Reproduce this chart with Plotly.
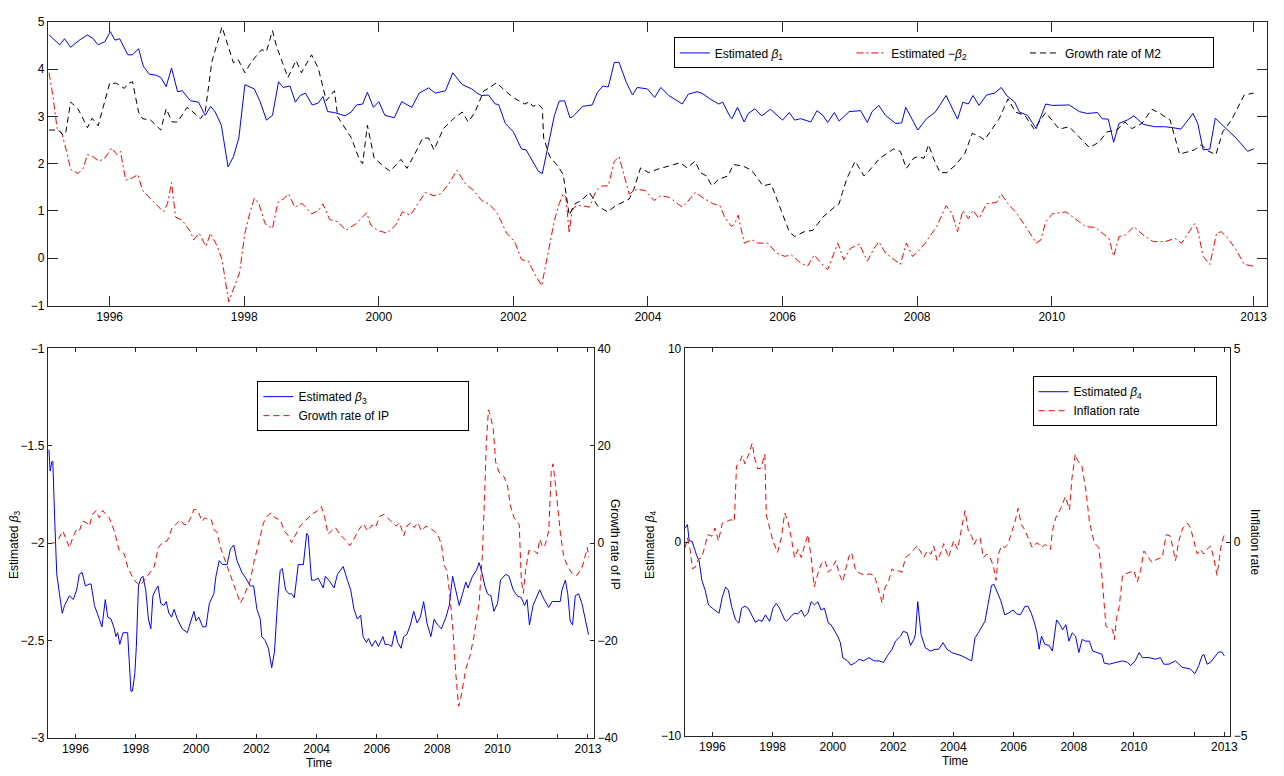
import plotly.graph_objects as go

# ---------------- Top panel data ----------------
t_b1 = [1995.10, 1995.26, 1995.33, 1995.42, 1995.56, 1995.67, 1995.75, 1995.83, 1995.93, 1996.01,
        1996.08, 1996.15, 1996.27, 1996.34, 1996.43, 1996.50, 1996.59, 1996.69, 1996.76, 1996.84,
        1996.92, 1997.01, 1997.08, 1997.20, 1997.32, 1997.42, 1997.50, 1997.57, 1997.66, 1997.76,
        1997.84, 1997.92, 1998.01, 1998.15, 1998.24, 1998.33, 1998.42, 1998.51, 1998.58, 1998.68,
        1998.76, 1998.83, 1998.91, 1999.01, 1999.10, 1999.17, 1999.24, 1999.34, 1999.50, 1999.59,
        1999.67, 1999.76, 1999.83, 1999.92, 2000.00, 2000.09, 2000.23, 2000.34, 2000.49, 2000.60,
        2000.74, 2000.84, 2000.99, 2001.10, 2001.24, 2001.38, 2001.46, 2001.53, 2001.63, 2001.73,
        2001.78, 2001.88, 2002.00, 2002.12, 2002.19, 2002.29, 2002.37, 2002.43, 2002.54, 2002.61,
        2002.68, 2002.76, 2002.84, 2002.88, 2003.03, 2003.17, 2003.25, 2003.33, 2003.41, 2003.50,
        2003.57, 2003.68, 2003.77, 2003.84, 2003.99, 2004.10, 2004.19, 2004.31, 2004.51, 2004.60,
        2004.73, 2004.80, 2004.92, 2005.05, 2005.11, 2005.22, 2005.25, 2005.33, 2005.43, 2005.49,
        2005.59, 2005.69, 2005.82, 2006.00, 2006.10, 2006.18, 2006.27, 2006.42, 2006.51, 2006.60,
        2006.67, 2006.77, 2006.84, 2006.99, 2007.16, 2007.26, 2007.33, 2007.43, 2007.53, 2007.68,
        2007.77, 2007.83, 2008.01, 2008.14, 2008.27, 2008.43, 2008.60, 2008.68, 2008.76, 2008.83,
        2008.92, 2009.03, 2009.15, 2009.25, 2009.33, 2009.45, 2009.52, 2009.64, 2009.77, 2009.91,
        2010.01, 2010.26, 2010.41, 2010.53, 2010.68, 2010.75, 2010.84, 2010.92, 2011.00, 2011.12,
        2011.22, 2011.36, 2011.53, 2011.68, 2011.80, 2011.92, 2012.10, 2012.17, 2012.25, 2012.35,
        2012.43, 2012.59, 2012.74, 2012.91, 2013.00]
b1 = [4.72, 4.51, 4.64, 4.46, 4.62, 4.72, 4.65, 4.51, 4.58, 4.79,
      4.61, 4.64, 4.30, 4.30, 4.43, 4.06, 3.89, 3.87, 3.82, 3.63,
      4.02, 3.52, 3.54, 3.33, 3.30, 3.02, 3.21, 3.09, 2.81, 1.93,
      2.15, 2.54, 3.67, 3.58, 3.30, 2.92, 3.02, 3.73, 3.61, 3.64,
      3.30, 3.44, 3.49, 3.24, 3.28, 3.42, 3.10, 3.08, 3.01, 3.09,
      3.24, 3.26, 3.51, 3.19, 3.31, 3.02, 2.97, 3.31, 3.19, 3.49,
      3.60, 3.49, 3.54, 3.92, 3.67, 3.58, 3.49, 3.44, 3.45, 3.26,
      3.25, 2.85, 2.67, 2.31, 2.29, 2.05, 1.84, 1.79, 2.54, 3.02,
      3.32, 3.33, 2.97, 2.99, 3.21, 3.24, 3.51, 3.64, 3.62, 4.14,
      4.14, 3.71, 3.45, 3.61, 3.58, 3.40, 3.61, 3.44, 3.26, 3.47,
      3.52, 3.49, 3.37, 3.26, 3.30, 2.99, 2.95, 3.19, 2.88, 3.06,
      3.16, 3.01, 3.15, 2.92, 3.08, 2.92, 2.95, 2.88, 3.12, 3.02,
      2.87, 3.08, 2.90, 3.10, 3.12, 2.87, 3.10, 3.23, 3.02, 2.85,
      2.86, 3.19, 2.71, 2.95, 3.09, 3.44, 2.94, 3.30, 3.26, 3.44,
      3.23, 3.45, 3.49, 3.61, 3.44, 3.30, 3.09, 3.02, 2.74, 3.26,
      3.23, 3.24, 3.10, 3.06, 3.08, 2.95, 2.94, 2.45, 2.85, 2.92,
      3.01, 2.83, 2.78, 2.78, 2.76, 2.73, 3.06, 2.85, 2.29, 2.31,
      2.96, 2.74, 2.54, 2.26, 2.31]

t_b2 = [1995.10, 1995.16, 1995.22, 1995.29, 1995.36, 1995.42, 1995.53, 1995.61, 1995.67, 1995.75,
        1995.84, 1995.93, 1996.03, 1996.11, 1996.16, 1996.24, 1996.34, 1996.42, 1996.49, 1996.61,
        1996.69, 1996.80, 1996.86, 1996.92, 1996.98, 1997.08, 1997.20, 1997.25, 1997.33, 1997.43,
        1997.50, 1997.60, 1997.67, 1997.77, 1997.84, 1997.93, 1998.01, 1998.08, 1998.15, 1998.22,
        1998.31, 1998.42, 1998.50, 1998.58, 1998.66, 1998.75, 1998.86, 1999.00, 1999.10, 1999.17,
        1999.27, 1999.39, 1999.51, 1999.66, 1999.82, 1999.88, 1999.98, 2000.12, 2000.25, 2000.35,
        2000.47, 2000.60, 2000.69, 2000.82, 2000.92, 2001.04, 2001.16, 2001.29, 2001.41, 2001.53,
        2001.63, 2001.75, 2001.90, 2002.02, 2002.12, 2002.22, 2002.32, 2002.42, 2002.51, 2002.61,
        2002.68, 2002.74, 2002.78, 2002.83, 2002.87, 2002.93, 2003.03, 2003.13, 2003.23, 2003.32,
        2003.41, 2003.50, 2003.57, 2003.64, 2003.72, 2003.84, 2003.96, 2004.09, 2004.19, 2004.31,
        2004.51, 2004.58, 2004.70, 2004.85, 2004.97, 2005.07, 2005.14, 2005.24, 2005.29, 2005.34,
        2005.43, 2005.54, 2005.63, 2005.78, 2005.91, 2006.03, 2006.13, 2006.27, 2006.37, 2006.47,
        2006.57, 2006.67, 2006.82, 2006.91, 2007.01, 2007.14, 2007.26, 2007.36, 2007.43, 2007.53,
        2007.75, 2007.84, 2007.93, 2008.02, 2008.12, 2008.22, 2008.29, 2008.43, 2008.52, 2008.60,
        2008.68, 2008.76, 2008.83, 2008.92, 2009.03, 2009.18, 2009.25, 2009.35, 2009.46, 2009.60,
        2009.77, 2009.84, 2009.91, 2010.01, 2010.21, 2010.41, 2010.50, 2010.65, 2010.75, 2010.85,
        2010.92, 2011.00, 2011.10, 2011.22, 2011.36, 2011.51, 2011.68, 2011.83, 2011.93, 2012.03,
        2012.12, 2012.17, 2012.25, 2012.35, 2012.45, 2012.52, 2012.62, 2012.74, 2012.86, 2013.00]
nb2 = [3.92, 3.40, 2.74, 2.64, 2.26, 1.88, 1.79, 1.91, 2.19, 2.15,
       2.05, 2.12, 2.33, 2.19, 2.26, 1.65, 1.70, 1.77, 1.43, 1.25,
       1.15, 0.98, 1.15, 1.60, 0.87, 0.80, 0.56, 0.39, 0.53, 0.25,
       0.53, 0.25, -0.03, -0.92, -0.65, -0.31, 0.53, 0.94, 1.27, 1.15,
       0.73, 0.63, 1.18, 1.25, 1.36, 1.08, 1.16, 0.94, 1.00, 1.15,
       0.82, 0.77, 0.59, 0.73, 0.96, 0.70, 0.59, 0.53, 0.70, 0.98,
       0.91, 1.20, 1.39, 1.32, 1.36, 1.57, 1.86, 1.57, 1.43, 1.22,
       1.15, 0.98, 0.53, 0.35, -0.03, -0.06, -0.34, -0.58, 0.04, 0.80,
       1.15, 1.36, 1.29, 0.53, 1.01, 1.11, 1.11, 1.08, 1.43, 1.53,
       1.53, 2.05, 2.15, 1.77, 1.36, 1.46, 1.43, 1.22, 1.32, 1.29,
       1.08, 1.18, 1.39, 1.25, 1.15, 1.11, 0.87, 0.67, 0.73, 0.91,
       0.32, 0.39, 0.32, 0.32, 0.11, 0.04, 0.07, -0.10, -0.17, 0.07,
       -0.10, -0.24, 0.32, -0.03, 0.21, 0.30, -0.06, 0.21, 0.35, 0.11,
       -0.13, 0.32, 0.04, 0.15, 0.32, 0.53, 0.67, 1.11, 0.94, 0.56,
       1.01, 0.84, 1.01, 0.84, 1.15, 1.18, 1.36, 1.15, 0.98, 0.70,
       0.32, 0.39, 0.77, 0.94, 0.98, 0.77, 0.67, 0.65, 0.53, 0.42,
       0.04, 0.46, 0.49, 0.67, 0.49, 0.35, 0.35, 0.42, 0.32, 0.53,
       0.73, 0.59, 0.04, -0.13, 0.53, 0.56, 0.42, 0.18, -0.13, -0.17]

t_m2 = [1995.10, 1995.24, 1995.31, 1995.35, 1995.42, 1995.53, 1995.67, 1995.74, 1995.83, 1996.00,
        1996.10, 1996.22, 1996.27, 1996.34, 1996.43, 1996.49, 1996.61, 1996.76, 1996.84, 1996.93,
        1997.01, 1997.15, 1997.24, 1997.35, 1997.42, 1997.52, 1997.67, 1997.84, 1997.91, 1998.01,
        1998.11, 1998.26, 1998.33, 1998.42, 1998.48, 1998.65, 1998.77, 1998.85, 1999.00, 1999.10,
        1999.22, 1999.34, 1999.39, 1999.59, 1999.71, 1999.76, 1999.83, 1999.93, 2000.10, 2000.17,
        2000.33, 2000.42, 2000.57, 2000.65, 2000.74, 2000.82, 2000.96, 2001.11, 2001.24, 2001.33,
        2001.43, 2001.56, 2001.63, 2001.75, 2001.90, 2002.02, 2002.17, 2002.24, 2002.29, 2002.37,
        2002.43, 2002.45, 2002.54, 2002.66, 2002.74, 2002.83, 2002.91, 2003.01, 2003.13, 2003.25,
        2003.40, 2003.52, 2003.72, 2003.79, 2003.89, 2004.01, 2004.14, 2004.31, 2004.48, 2004.58,
        2004.70, 2004.78, 2004.87, 2004.95, 2005.05, 2005.19, 2005.27, 2005.41, 2005.54, 2005.71,
        2005.83, 2005.98, 2006.10, 2006.18, 2006.32, 2006.45, 2006.60, 2006.77, 2006.84, 2006.89,
        2006.96, 2007.08, 2007.21, 2007.28, 2007.45, 2007.65, 2007.75, 2007.84, 2007.95, 2008.02,
        2008.10, 2008.17, 2008.24, 2008.34, 2008.44, 2008.58, 2008.71, 2008.82, 2008.93, 2009.00,
        2009.08, 2009.22, 2009.35, 2009.46, 2009.60, 2009.74, 2009.91, 2010.11, 2010.26, 2010.41,
        2010.56, 2010.70, 2010.82, 2010.97, 2011.09, 2011.19, 2011.34, 2011.49, 2011.61, 2011.76,
        2011.90, 2012.12, 2012.22, 2012.32, 2012.44, 2012.54, 2012.67, 2012.86, 2013.00]
m2 = [2.71, 2.71, 2.60, 2.67, 3.30, 3.16, 2.76, 2.96, 2.80, 3.70,
      3.70, 3.59, 3.69, 3.73, 3.09, 2.95, 2.92, 2.71, 3.16, 2.88,
      2.88, 3.19, 3.09, 2.95, 3.09, 4.16, 4.89, 4.13, 4.20, 3.92,
      4.16, 4.41, 4.37, 4.81, 4.48, 3.82, 4.18, 3.92, 4.30, 4.02,
      3.33, 3.54, 2.99, 2.55, 2.09, 2.00, 2.81, 2.12, 1.91, 1.84,
      2.09, 1.90, 2.30, 2.54, 2.54, 2.29, 2.74, 2.95, 3.09, 2.88,
      3.09, 3.54, 3.59, 3.71, 3.51, 3.38, 3.26, 3.31, 3.21, 3.26,
      3.17, 2.54, 2.15, 1.95, 1.77, 0.91, 1.15, 1.22, 1.39, 1.11,
      0.98, 1.11, 1.25, 1.46, 1.91, 1.81, 1.88, 1.95, 2.02, 1.91,
      2.05, 1.81, 1.74, 1.53, 1.67, 1.74, 1.98, 1.95, 1.86, 1.53,
      1.57, 1.01, 0.56, 0.46, 0.56, 0.59, 0.87, 1.08, 1.15, 1.39,
      1.70, 2.05, 1.74, 1.84, 2.12, 2.31, 2.26, 1.90, 2.12, 2.15,
      2.11, 2.40, 2.12, 1.81, 1.81, 1.98, 2.22, 2.64, 2.57, 2.50,
      2.67, 2.95, 3.37, 3.09, 3.02, 2.73, 3.08, 2.73, 2.78, 2.57,
      2.34, 2.45, 2.67, 2.71, 2.88, 2.74, 2.85, 3.15, 3.06, 2.92,
      2.20, 2.29, 2.40, 2.27, 2.19, 2.67, 2.92, 3.45, 3.49]

# ---------------- Bottom-left panel data ----------------
t_b3 = [1995.12, 1995.16, 1995.22, 1995.25, 1995.31, 1995.38, 1995.47, 1995.56, 1995.64, 1995.80,
        1995.93, 1996.04, 1996.13, 1996.22, 1996.33, 1996.46, 1996.52, 1996.63, 1996.79, 1996.88,
        1996.99, 1997.07, 1997.18, 1997.29, 1997.34, 1997.40, 1997.47, 1997.58, 1997.73, 1997.78,
        1997.84, 1997.89, 1997.97, 1998.02, 1998.09, 1998.17, 1998.24, 1998.33, 1998.42, 1998.50,
        1998.57, 1998.66, 1998.74, 1998.83, 1998.94, 1999.01, 1999.10, 1999.19, 1999.27, 1999.38,
        1999.54, 1999.71, 1999.82, 1999.93, 2000.00, 2000.09, 2000.22, 2000.33, 2000.44, 2000.59,
        2000.66, 2000.77, 2000.88, 2001.03, 2001.14, 2001.25, 2001.36, 2001.52, 2001.65, 2001.80,
        2001.91, 2002.02, 2002.13, 2002.18, 2002.29, 2002.40, 2002.51, 2002.60, 2002.71, 2002.79,
        2002.86, 2002.97, 2003.08, 2003.17, 2003.26, 2003.39, 2003.56, 2003.67, 2003.72, 2003.83,
        2003.94, 2004.05, 2004.22, 2004.29, 2004.40, 2004.49, 2004.58, 2004.69, 2004.88, 2005.02,
        2005.13, 2005.24, 2005.35, 2005.46, 2005.54, 2005.65, 2005.72, 2005.83, 2005.95, 2006.05,
        2006.20, 2006.27, 2006.38, 2006.49, 2006.60, 2006.69, 2006.80, 2006.89, 2006.99, 2007.11,
        2007.22, 2007.33, 2007.44, 2007.55, 2007.66, 2007.79, 2007.90, 2008.01, 2008.14, 2008.29,
        2008.40, 2008.51, 2008.62, 2008.73, 2008.84, 2008.95, 2009.02, 2009.17, 2009.30, 2009.39,
        2009.48, 2009.58, 2009.67, 2009.78, 2009.88, 2010.00, 2010.10, 2010.27, 2010.38, 2010.52,
        2010.65, 2010.79, 2010.90, 2010.98, 2011.06, 2011.18, 2011.40, 2011.55, 2011.70, 2011.81,
        2012.08, 2012.14, 2012.25, 2012.33, 2012.41, 2012.49, 2012.58, 2012.69, 2012.80, 2013.02]
b3 = [-1.52, -1.63, -1.58, -1.58, -1.87, -2.16, -2.26, -2.36, -2.32, -2.27,
      -2.29, -2.24, -2.16, -2.15, -2.22, -2.21, -2.21, -2.32, -2.39, -2.43,
      -2.29, -2.38, -2.39, -2.44, -2.48, -2.46, -2.52, -2.46, -2.46, -2.59,
      -2.76, -2.76, -2.67, -2.53, -2.22, -2.18, -2.17, -2.24, -2.39, -2.44,
      -2.27, -2.24, -2.22, -2.31, -2.32, -2.30, -2.36, -2.38, -2.34, -2.39,
      -2.44, -2.46, -2.41, -2.35, -2.40, -2.38, -2.43, -2.43, -2.31, -2.26,
      -2.17, -2.09, -2.11, -2.11, -2.03, -2.01, -2.09, -2.15, -2.18, -2.22,
      -2.22, -2.34, -2.39, -2.48, -2.50, -2.54, -2.64, -2.56, -2.29, -2.14,
      -2.13, -2.24, -2.26, -2.26, -2.28, -2.11, -2.11, -1.95, -1.96, -2.19,
      -2.19, -2.18, -2.23, -2.17, -2.19, -2.21, -2.23, -2.16, -2.12, -2.19,
      -2.24, -2.34, -2.39, -2.37, -2.48, -2.51, -2.49, -2.53, -2.50, -2.53,
      -2.48, -2.52, -2.52, -2.53, -2.45, -2.51, -2.54, -2.48, -2.47, -2.42,
      -2.35, -2.41, -2.38, -2.30, -2.41, -2.48, -2.39, -2.42, -2.44, -2.38,
      -2.32, -2.17, -2.24, -2.32, -2.26, -2.20, -2.23, -2.17, -2.14, -2.10,
      -2.15, -2.22, -2.26, -2.27, -2.35, -2.31, -2.19, -2.16, -2.17, -2.24,
      -2.27, -2.28, -2.32, -2.29, -2.42, -2.32, -2.24, -2.29, -2.33, -2.30,
      -2.30, -2.24, -2.19, -2.26, -2.40, -2.42, -2.27, -2.26, -2.31, -2.47]

t_ip = [1995.16, 1995.31, 1995.42, 1995.58, 1995.69, 1995.80, 1995.93, 1996.04, 1996.13, 1996.24,
        1996.37, 1996.46, 1996.57, 1996.68, 1996.79, 1996.90, 1997.01, 1997.12, 1997.29, 1997.45,
        1997.62, 1997.73, 1997.84, 1997.95, 1998.06, 1998.17, 1998.28, 1998.44, 1998.61, 1998.75,
        1998.88, 1999.05, 1999.21, 1999.32, 1999.49, 1999.60, 1999.71, 1999.82, 1999.93, 2000.00,
        2000.09, 2000.20, 2000.29, 2000.40, 2000.51, 2000.59, 2000.70, 2000.81, 2000.97, 2001.14,
        2001.25, 2001.36, 2001.47, 2001.58, 2001.69, 2001.80, 2001.91, 2002.02, 2002.13, 2002.24,
        2002.35, 2002.49, 2002.62, 2002.79, 2002.93, 2003.06, 2003.17, 2003.30, 2003.45, 2003.61,
        2003.83, 2003.99, 2004.16, 2004.27, 2004.38, 2004.49, 2004.62, 2004.77, 2004.93, 2005.10,
        2005.21, 2005.37, 2005.54, 2005.70, 2005.83, 2005.95, 2006.09, 2006.23, 2006.36, 2006.53,
        2006.64, 2006.75, 2006.89, 2006.99, 2007.13, 2007.24, 2007.35, 2007.48, 2007.62, 2007.73,
        2007.90, 2008.01, 2008.14, 2008.23, 2008.32, 2008.40, 2008.51, 2008.62, 2008.71, 2008.78,
        2008.95, 2009.09, 2009.22, 2009.39, 2009.50, 2009.58, 2009.63, 2009.70, 2009.77, 2009.86,
        2009.94, 2010.05, 2010.22, 2010.33, 2010.42, 2010.55, 2010.72, 2010.79, 2010.86, 2010.93,
        2011.04, 2011.21, 2011.32, 2011.40, 2011.50, 2011.59, 2011.70, 2011.78, 2011.84, 2011.90,
        2011.98, 2012.09, 2012.20, 2012.34, 2012.48, 2012.64, 2012.81, 2012.92, 2012.98, 2013.03]
ip = [-0.1, 0.1, 0.6, 2.5, 0.8, -0.9, 1.5, 2.8, 2.5, 4.5,
      4.2, 3.5, 5.9, 6.7, 5.2, 6.7, 5.9, 5.2, 2.5, -1.5,
      -2.2, -4.9, -6.3, -7.6, -8.3, -8.6, -7.6, -6.3, -4.9, -0.9,
      0.1, 0.5, 3.2, 3.8, 4.8, 3.8, 3.8, 5.2, 6.9, 6.9,
      6.2, 4.5, 5.2, 4.8, 4.8, 2.8, 2.2, -0.9, -3.6, -6.3,
      -8.3, -10.3, -12.3, -11.0, -9.3, -7.6, -4.2, -1.2, 1.1, 4.2,
      5.5, 6.2, 5.2, 4.8, 2.5, 1.5, 0.1, 1.8, 3.5, 4.5,
      5.9, 6.5, 7.5, 5.2, 1.8, 2.5, 3.2, 1.8, 0.8, -0.5,
      0.5, 2.5, 4.0, 2.5, 3.7, 3.2, 5.5, 5.9, 5.2, 4.2,
      3.5, 4.2, 1.5, 3.5, 4.2, 3.2, 4.2, 2.5, 3.5, 3.2,
      2.5, 1.8, -0.2, -4.6, -5.6, -9.6, -17.0, -27.1, -33.5, -31.9,
      -25.8, -23.1, -19.1, -12.3, -2.2, 11.2, 20.7, 27.4, 26.1, 23.4,
      16.6, 14.6, 13.6, 11.9, 7.9, 5.2, 3.8, -7.6, -10.3, -5.6,
      -1.5, -1.5, -2.2, 0.8, -0.9, -0.2, 2.5, 14.6, 16.3, 13.3,
      7.9, 1.8, -2.9, -4.9, -6.3, -6.6, -4.9, -2.2, -0.9, -2.9]

# ---------------- Bottom-right panel data ----------------
t_b4 = [1995.10, 1995.17, 1995.23, 1995.32, 1995.41, 1995.48, 1995.56, 1995.65, 1995.76, 1995.87,
        1996.00, 1996.12, 1996.22, 1996.33, 1996.44, 1996.53, 1996.64, 1996.77, 1996.88, 1996.97,
        1997.08, 1997.19, 1997.32, 1997.43, 1997.54, 1997.65, 1997.76, 1997.90, 1998.01, 1998.12,
        1998.23, 1998.40, 1998.46, 1998.71, 1998.84, 1998.95, 1999.06, 1999.17, 1999.28, 1999.39,
        1999.50, 1999.61, 1999.72, 1999.85, 1999.94, 2000.05, 2000.16, 2000.25, 2000.33, 2000.49,
        2000.60, 2000.76, 2000.87, 2001.02, 2001.20, 2001.37, 2001.54, 2001.68, 2001.81, 2001.97,
        2002.08, 2002.25, 2002.34, 2002.47, 2002.58, 2002.69, 2002.74, 2002.82, 2002.93, 2003.07,
        2003.24, 2003.40, 2003.51, 2003.66, 2003.79, 2003.95, 2004.12, 2004.28, 2004.61, 2004.72,
        2004.83, 2004.97, 2005.05, 2005.16, 2005.27, 2005.35, 2005.44, 2005.57, 2005.71, 2005.82,
        2005.99, 2006.10, 2006.23, 2006.37, 2006.48, 2006.59, 2006.70, 2006.78, 2006.85, 2006.93,
        2007.04, 2007.18, 2007.29, 2007.43, 2007.54, 2007.63, 2007.74, 2007.84, 2007.95, 2008.06,
        2008.17, 2008.28, 2008.39, 2008.52, 2008.63, 2008.80, 2008.94, 2009.01, 2009.18, 2009.40,
        2009.62, 2009.79, 2009.89, 2010.04, 2010.17, 2010.28, 2010.50, 2010.72, 2010.88, 2010.99,
        2011.16, 2011.38, 2011.60, 2011.88, 2012.02, 2012.15, 2012.26, 2012.32, 2012.43, 2012.54,
        2012.70, 2012.81, 2012.92, 2013.00]
b4 = [0.73, 0.90, 0.05, 0.05, -0.37, -0.71, -0.97, -1.98, -2.49, -3.25,
      -3.42, -3.59, -3.68, -2.83, -2.32, -2.49, -3.34, -4.02, -4.19, -3.42,
      -3.31, -3.42, -3.85, -4.15, -4.02, -4.10, -3.76, -4.10, -3.42, -3.17,
      -3.42, -4.02, -4.10, -3.68, -3.71, -3.51, -3.85, -3.68, -3.08, -3.25,
      -3.08, -3.51, -3.42, -4.19, -4.27, -4.53, -4.86, -5.20, -5.97, -6.14,
      -6.36, -6.22, -6.05, -6.14, -5.97, -6.14, -6.14, -6.22, -5.88, -5.54,
      -5.12, -4.86, -4.61, -4.69, -5.34, -5.03, -4.78, -3.08, -4.78, -5.46,
      -5.63, -5.54, -5.54, -5.20, -5.54, -5.71, -5.80, -5.88, -6.14, -4.95,
      -4.69, -4.27, -4.10, -3.17, -2.24, -2.19, -2.49, -3.00, -3.76, -3.68,
      -3.51, -3.71, -3.76, -3.34, -3.31, -3.68, -4.19, -4.69, -5.54, -4.86,
      -5.29, -5.34, -5.63, -4.02, -4.27, -4.53, -4.27, -5.12, -4.69, -4.86,
      -5.71, -5.03, -5.12, -5.12, -5.63, -5.71, -5.80, -6.25, -6.31, -6.22,
      -6.14, -6.22, -6.39, -6.14, -5.71, -5.97, -5.97, -6.05, -5.97, -6.31,
      -6.31, -6.14, -6.47, -6.56, -6.81, -6.39, -5.88, -5.80, -6.31, -6.22,
      -5.88, -5.68, -5.68, -5.88]

t_inf = [1995.10, 1995.17, 1995.26, 1995.34, 1995.43, 1995.54, 1995.65, 1995.76, 1995.85, 1995.98,
         1996.09, 1996.20, 1996.33, 1996.48, 1996.62, 1996.73, 1996.80, 1996.88, 1996.99, 1997.08,
         1997.19, 1997.32, 1997.41, 1997.50, 1997.61, 1997.68, 1997.74, 1997.79, 1997.90, 1998.01,
         1998.16, 1998.29, 1998.40, 1998.51, 1998.62, 1998.73, 1998.84, 1998.95, 1999.06, 1999.17,
         1999.28, 1999.38, 1999.50, 1999.61, 1999.74, 1999.85, 1999.96, 2000.10, 2000.21, 2000.33,
         2000.43, 2000.54, 2000.62, 2000.76, 2000.93, 2001.09, 2001.20, 2001.37, 2001.48, 2001.59,
         2001.64, 2001.72, 2001.86, 2001.97, 2002.08, 2002.19, 2002.30, 2002.41, 2002.56, 2002.69,
         2002.80, 2002.93, 2003.02, 2003.13, 2003.26, 2003.35, 2003.46, 2003.57, 2003.68, 2003.84,
         2004.01, 2004.14, 2004.28, 2004.39, 2004.50, 2004.61, 2004.69, 2004.78, 2004.89, 2005.00,
         2005.11, 2005.22, 2005.33, 2005.42, 2005.50, 2005.60, 2005.71, 2005.82, 2005.93, 2006.04,
         2006.15, 2006.26, 2006.37, 2006.51, 2006.62, 2006.79, 2006.93, 2007.06, 2007.23, 2007.29,
         2007.40, 2007.57, 2007.72, 2007.86, 2007.94, 2008.05, 2008.13, 2008.27, 2008.41, 2008.52,
         2008.68, 2008.83, 2008.94, 2009.07, 2009.18, 2009.29, 2009.35, 2009.42, 2009.51, 2009.62,
         2009.73, 2009.90, 2010.00, 2010.11, 2010.22, 2010.33, 2010.44, 2010.60, 2010.77, 2010.94,
         2011.07, 2011.21, 2011.38, 2011.49, 2011.62, 2011.77, 2011.88, 2011.99, 2012.10, 2012.21,
         2012.32, 2012.43, 2012.54, 2012.65, 2012.76, 2012.84, 2012.90, 2013.00]
infl = [-0.14, 0.11, -0.19, -0.69, -0.65, -0.44, -0.40, -0.06, 0.19, 0.15,
        0.36, 0.03, 0.49, 0.53, 0.58, 0.53, 1.97, 2.02, 2.23, 2.02,
        2.23, 2.55, 2.14, 1.89, 1.91, 2.10, 2.27, 0.70, 0.36, 0.03,
        -0.27, 0.11, 0.75, 0.53, 0.11, -0.40, -0.19, -0.40, -0.10, 0.19,
        -0.40, -1.16, -0.82, -0.57, -0.48, -0.78, -0.69, -0.48, -0.82, -1.03,
        -0.69, -0.36, -0.27, -0.74, -0.82, -0.86, -0.82, -0.86, -1.12, -1.42,
        -1.58, -1.20, -0.99, -0.69, -0.78, -0.74, -0.78, -0.40, -0.31, -0.19,
        -0.10, -0.27, -0.40, -0.23, -0.31, -0.10, -0.48, -0.31, -0.04, -0.40,
        0.03, -0.19, 0.32, 0.81, 0.28, 0.15, -0.06, 0.07, 0.11, -0.40,
        -0.31, -0.40, -0.61, -0.99, -0.31, -0.10, -0.14, -0.06, 0.24, 0.49,
        0.87, 0.45, 0.32, 0.07, -0.14, -0.02, -0.14, -0.06, -0.19, 0.28,
        0.62, 0.87, 1.17, 0.83, 1.64, 2.27, 2.10, 1.97, 1.30, 0.53,
        -0.02, -0.14, -0.91, -2.18, -2.22, -2.26, -2.52, -1.97, -1.67, -0.86,
        -0.82, -0.78, -0.74, -1.03, -0.74, -0.23, -0.36, -0.53, -0.44, -0.40,
        0.19, 0.15, -0.48, 0.03, 0.36, 0.49, 0.36, 0.03, -0.31, -0.19,
        -0.31, -0.19, -0.10, -0.40, -0.86, -0.40, -0.06, 0.19]

# ---------------- Axis / tick definitions ----------------
top_ticks = [1996, 1998, 2000, 2002, 2004, 2006, 2008, 2010, 2013]
top_ticktext = ["1996", "1998", "2000", "2002", "2004", "2006", "2008", "2010", "2013"]
bot_ticks = [1996, 1998, 2000, 2002, 2004, 2006, 2008, 2010, 2012, 2013]
bot_ticktext = ["1996", "1998", "2000", "2002", "2004", "2006", "2008", "2010", "", "2013"]

FONT = "Liberation Sans, Arial, sans-serif"
AX = "#262626"
BLUE = "#0000ff"
RED = "#ff0000"
PAD = "\u00a0"

fig = go.Figure()

fig.add_trace(go.Scatter(x=t_b1, y=b1, mode="lines", name="Estimated <i>β</i><sub>1</sub>" + PAD * 19,
                         line=dict(color=BLUE, width=1), xaxis="x", yaxis="y", legend="legend"))
fig.add_trace(go.Scatter(x=t_b2, y=nb2, mode="lines", name="Estimated −<i>β</i><sub>2</sub>" + PAD * 16,
                         line=dict(color=RED, width=1, dash="7px,3px,2px,3px"),
                         xaxis="x", yaxis="y", legend="legend"))
fig.add_trace(go.Scatter(x=t_m2, y=m2, mode="lines", name="Growth rate of M2" + PAD * 14,
                         line=dict(color="#000000", width=1, dash="6px,4px"),
                         xaxis="x", yaxis="y", legend="legend"))

fig.add_trace(go.Scatter(x=t_b3, y=b3, mode="lines", name="Estimated <i>β</i><sub>3</sub>",
                         line=dict(color=BLUE, width=1), xaxis="x2", yaxis="y2", legend="legend2"))
fig.add_trace(go.Scatter(x=t_ip, y=ip, mode="lines", name="Growth rate of IP" + PAD * 22,
                         line=dict(color=RED, width=1, dash="6px,4px"),
                         xaxis="x2", yaxis="y3", legend="legend2"))

fig.add_trace(go.Scatter(x=t_b4, y=b4, mode="lines", name="Estimated <i>β</i><sub>4</sub>",
                         line=dict(color=BLUE, width=1), xaxis="x3", yaxis="y4", legend="legend3"))
fig.add_trace(go.Scatter(x=t_inf, y=infl, mode="lines", name="Inflation rate" + PAD * 21,
                         line=dict(color=RED, width=1, dash="6px,4px"),
                         xaxis="x3", yaxis="y5", legend="legend3"))


def xax(domain, anchor, tv, tt, ticklen):
    return dict(domain=domain, anchor=anchor, range=[1995.08, 2013.2], tickvals=tv, ticktext=tt,
                ticks="inside", ticklen=ticklen, tickcolor=AX, showline=True, linecolor=AX,
                linewidth=1, mirror="ticks", showgrid=False, zeroline=False,
                tickfont=dict(family=FONT, size=12, color="#000"))


def yax(domain, anchor, rng, dtick, ticklen, mirror, side="left", overlaying=None):
    d = dict(anchor=anchor, range=rng, dtick=dtick, tick0=rng[0], ticks="inside", ticklen=ticklen,
             tickcolor=AX, showline=True, linecolor=AX, linewidth=1, mirror=mirror,
             showgrid=False, zeroline=False, side=side,
             tickfont=dict(family=FONT, size=12, color="#000"))
    if domain is not None:
        d["domain"] = domain
    if overlaying:
        d["overlaying"] = overlaying
    return d


LEG = dict(xanchor="left", yanchor="top", bgcolor="white", bordercolor="#000", borderwidth=1,
           font=dict(family=FONT, size=12, color="#000"))

fig.update_layout(
    width=1284, height=776,
    margin=dict(l=0, r=0, t=0, b=0),
    paper_bgcolor="white", plot_bgcolor="white",
    font=dict(family=FONT, size=12, color="#000"),
    xaxis=xax([0.0374, 0.9930], "y", top_ticks, top_ticktext, 10),
    yaxis=yax([0.6082, 0.9807], "x", [-1, 5], 1, 10, "ticks"),
    xaxis2=xax([0.0374, 0.4655], "y2", bot_ticks, bot_ticktext, 4),
    yaxis2=yax([0.0409, 0.5519], "x2", [-3, -1], 0.5, 4, False),
    yaxis3=yax(None, "x2", [-40, 40], 20, 4, False, side="right", overlaying="y2"),
    xaxis3=xax([0.5366, 0.9642], "y4", bot_ticks, bot_ticktext, 4),
    yaxis4=yax([0.0438, 0.5519], "x3", [-10, 10], 10, 4, False),
    yaxis5=yax(None, "x3", [-5, 5], 5, 4, False, side="right", overlaying="y4"),
    legend=dict(x=678 / 1284, y=1 - 31 / 776, orientation="h", **LEG),
    legend2=dict(x=259 / 1284, y=1 - 381 / 776, orientation="v", **LEG),
    legend3=dict(x=1039 / 1284, y=1 - 376 / 776, orientation="v", **LEG),
    showlegend=True,
)

ann_font = dict(family=FONT, size=12, color="#000")
annotations = [
    dict(text="Estimated <i>β</i><sub>3</sub>", x=15 / 1284, y=1 - 547 / 776, textangle=-90),
    dict(text="Growth rate of IP", x=619 / 1284, y=1 - 547 / 776, textangle=90),
    dict(text="Estimated <i>β</i><sub>4</sub>", x=655 / 1284, y=1 - 547 / 776, textangle=-90),
    dict(text="Inflation rate", x=1263 / 1284, y=1 - 545 / 776, textangle=90),
    dict(text="Time", x=321 / 1284, y=1 - 770 / 776, textangle=0),
    dict(text="Time", x=961 / 1284, y=1 - 768 / 776, textangle=0),
]
for a in annotations:
    fig.add_annotation(xref="paper", yref="paper", showarrow=False, xanchor="center",
                       yanchor="middle", font=ann_font, **a)

fig.write_html("out.html", config={"displayModeBar": False},
               post_script="document.body.style.margin='0px';")
